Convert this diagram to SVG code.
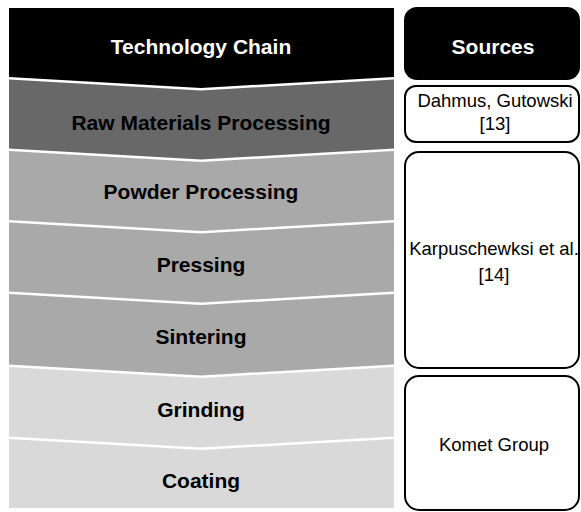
<svg xmlns="http://www.w3.org/2000/svg" width="581" height="512" viewBox="0 0 581 512">
<style>
.band-text{font-family:"Liberation Sans",Arial,sans-serif;font-weight:bold;font-size:21px;text-anchor:middle;fill:#000}
.head-text{font-family:"Liberation Sans",Arial,sans-serif;font-weight:bold;font-size:21px;text-anchor:middle;fill:#fff}
.src-text{font-family:"Liberation Sans",Arial,sans-serif;font-size:18.5px;text-anchor:middle;fill:#000}
.src-box{fill:#fff;stroke:#000;stroke-width:2}
</style>
<rect width="581" height="512" fill="#fff"/>
<g id="header-chain">
<polygon points="9,8 394,8 394,77 201,88 9,77" fill="#000"/>
<text class="head-text" x="201" y="54">Technology Chain</text>
</g>
<g id="raw-materials">
<polygon points="9,79.5 201,90.5 394,79.5 394,148.5 201,159.5 9,148.5" fill="#686868"/>
<text class="band-text" x="201" y="130">Raw Materials Processing</text>
</g>
<g id="powder">
<polygon points="9,151 201,162 394,151 394,220 201,231 9,220" fill="#a9a9a9"/>
<text class="band-text" x="201" y="199">Powder Processing</text>
</g>
<g id="pressing">
<polygon points="9,222.5 201,233.5 394,222.5 394,291.5 201,302.5 9,291.5" fill="#a9a9a9"/>
<text class="band-text" x="201" y="272">Pressing</text>
</g>
<g id="sintering">
<polygon points="9,294 201,305 394,294 394,364.5 201,375.5 9,364.5" fill="#a9a9a9"/>
<text class="band-text" x="201" y="344">Sintering</text>
</g>
<g id="grinding">
<polygon points="9,367 201,378 394,367 394,436.5 201,447.5 9,436.5" fill="#d9d9d9"/>
<text class="band-text" x="201" y="417">Grinding</text>
</g>
<g id="coating">
<polygon points="9,439 201,450 394,439 394,508 9,508" fill="#d9d9d9"/>
<text class="band-text" x="201" y="488">Coating</text>
</g>
<g id="header-sources">
<rect x="404" y="7" width="176" height="73" rx="13" fill="#000"/>
<text class="head-text" x="493" y="54">Sources</text>
</g>
<g id="src-dahmus">
<rect class="src-box" x="405" y="86" width="174" height="56" rx="11"/>
<text class="src-text" x="495" y="107">Dahmus, Gutowski</text>
<text class="src-text" x="495" y="130">[13]</text>
</g>
<g id="src-karpuschewksi">
<rect class="src-box" x="405" y="152" width="174" height="216" rx="14"/>
<text class="src-text" x="494" y="255">Karpuschewksi et al.</text>
<text class="src-text" x="494" y="281">[14]</text>
</g>
<g id="src-komet">
<rect class="src-box" x="405" y="376" width="174" height="134" rx="14"/>
<text class="src-text" x="494" y="451">Komet Group</text>
</g>
<g id="connectors"></g>
</svg>
